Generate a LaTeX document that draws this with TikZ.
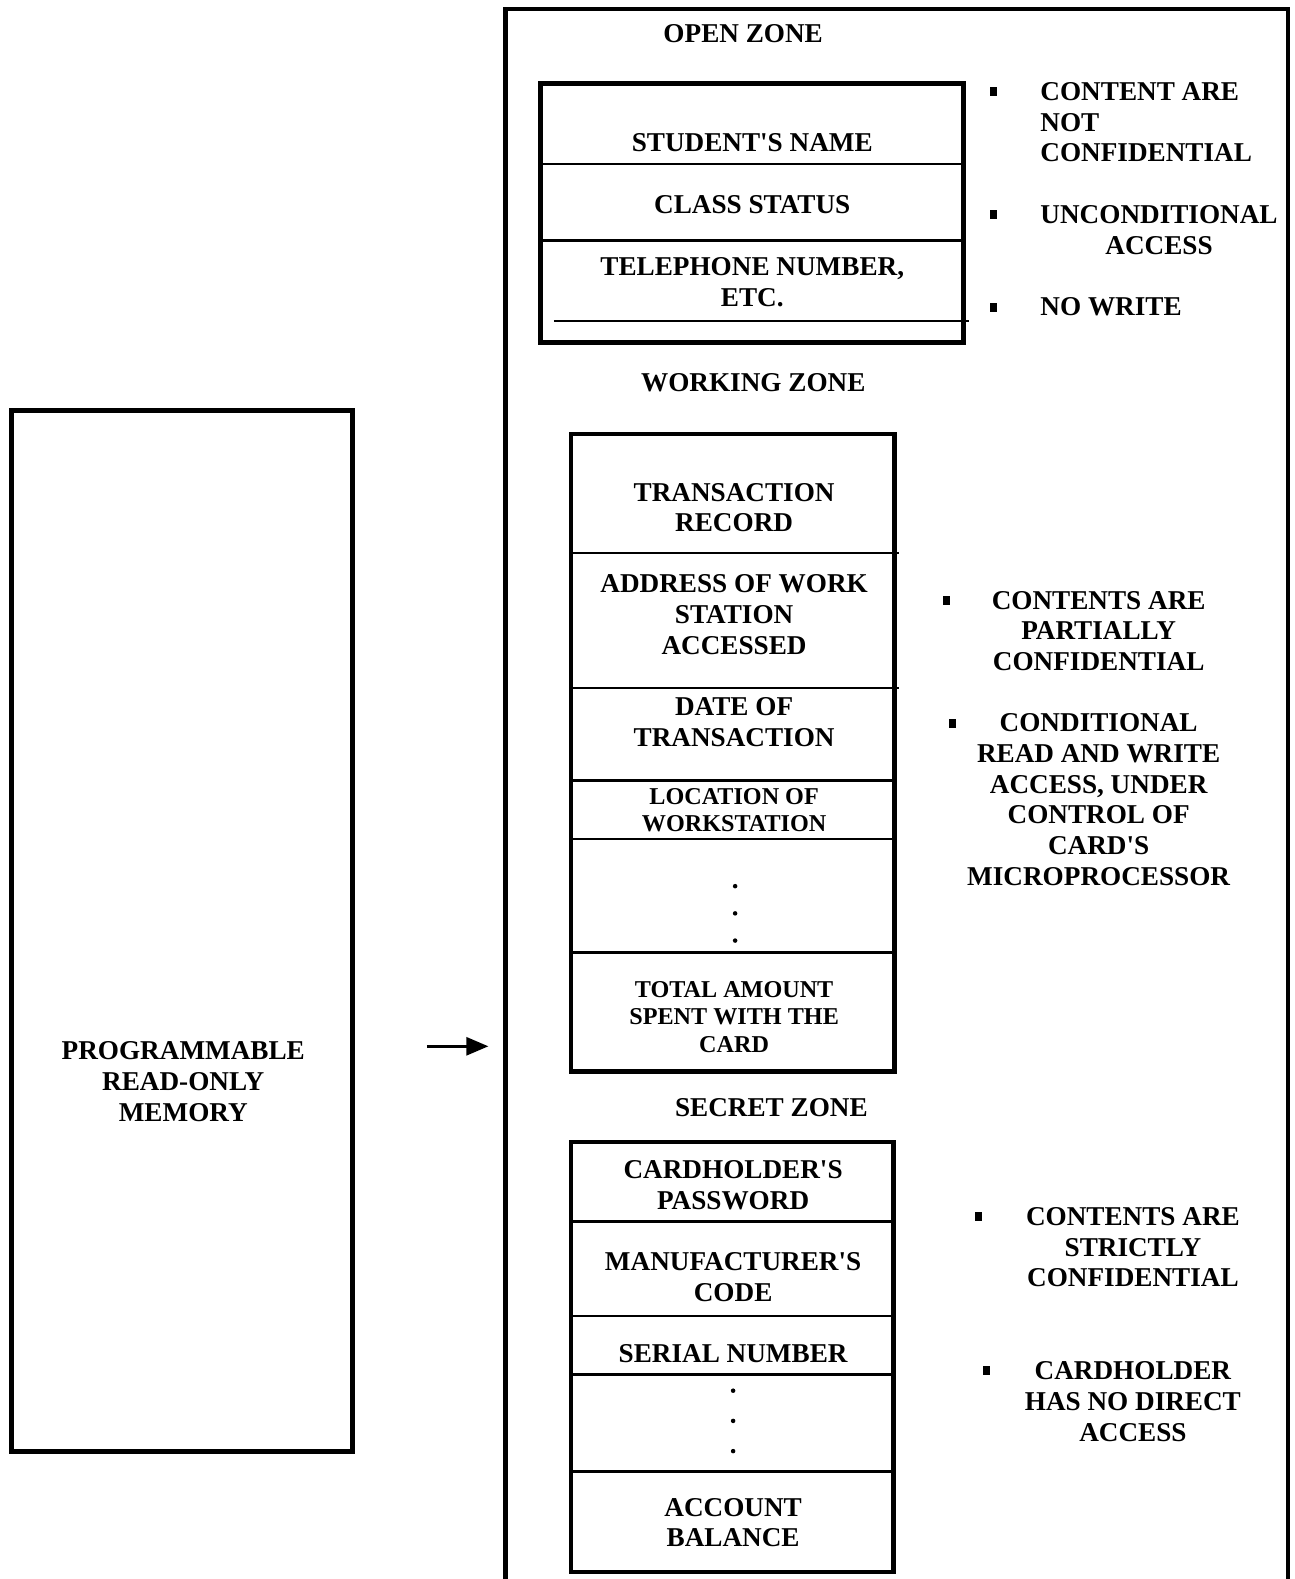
\documentclass[tikz,border=0pt]{standalone}
\usepackage{fontspec}
\setmainfont{Liberation Serif}
\usetikzlibrary{arrows.meta}
\begin{document}
\begin{tikzpicture}[x=1pt,y=-1pt,
  lbl/.style={font=\bfseries\fontsize{27}{30.5}\selectfont, align=center, inner sep=0pt},
  sml/.style={font=\bfseries\fontsize{24}{27}\selectfont, align=center, inner sep=0pt},
  zonebox/.style={draw, line width=4.8pt, inner sep=0pt},
  sepline/.style={line width=2.5pt},
  bul/.style={fill, minimum width=7pt, minimum height=9pt, inner sep=0pt},
  vdot/.style={circle, fill, minimum size=4.5pt, inner sep=0pt}]
\useasboundingbox (0,0) rectangle (1285,1568);

% outer card memory frame (open at the bottom)
\draw[line width=4.5pt] (502,1590) -- (502,9) -- (1279,9) -- (1279,1590);

% PROM box
\node[zonebox, line width=5pt, minimum width=339pt, minimum height=1033pt] (prom) at (180.5,924.5) {};
\node[lbl] (promtxt) at (182,1074) {PROGRAMMABLE\\READ-ONLY\\MEMORY};

% arrow
\coordinate (arrtail) at (424,1039);
\coordinate (arrtip) at (485,1039);
\draw[line width=2.5pt, -{Triangle[length=22pt,width=18pt]}] (arrtail) -- (arrtip);

% ---------------- OPEN ZONE ----------------
\node[lbl] (opentitle) at (738,33) {OPEN ZONE};
\node[zonebox, minimum width=420pt, minimum height=257pt] (openbox) at (747,211.5) {};
\draw[sepline] (537,163) -- (957,163);
\draw[sepline] (537,239) -- (957,239);
\draw[sepline] (550,319) -- (962,319);
\node[lbl] (o1) at (747,142) {STUDENT\textquotesingle S NAME};
\node[lbl] (o2) at (747,203) {CLASS STATUS};
\node[lbl] (o3) at (747,280.5) {TELEPHONE NUMBER,\\ETC.};

\node[bul] (ob1) at (987,91) {};
\node[bul] (ob2) at (987,213) {};
\node[bul] (ob3) at (987,305) {};
\node[lbl, align=left, anchor=west] (ot1) at (1033,121.5) {CONTENT ARE\\NOT\\CONFIDENTIAL};
\node[lbl, anchor=west] (ot2) at (1033,228.5) {UNCONDITIONAL\\ACCESS};
\node[lbl, anchor=west] (ot3) at (1033,305) {NO WRITE};

% ---------------- WORKING ZONE ----------------
\node[lbl] (worktitle) at (748,380) {WORKING ZONE};
\node[zonebox, minimum width=321pt, minimum height=633pt] (workbox) at (727.5,747.5) {};
\draw[sepline] (567,549) -- (893,549);
\draw[sepline] (567,683) -- (893,683);
\draw[sepline] (567,775) -- (888,775);
\draw[sepline] (567,833) -- (888,833);
\draw[sepline] (567,946) -- (888,946);
\node[lbl] (w1) at (729,504) {TRANSACTION\\RECORD};
\node[lbl] (w2) at (729,610.5) {ADDRESS OF WORK\\STATION\\ACCESSED};
\node[lbl] (w3) at (729,717) {DATE OF\\TRANSACTION};
\node[sml] (w4) at (729,804.5) {LOCATION OF\\WORKSTATION};
\node[vdot] (wd1) at (730,880) {};
\node[vdot] (wd2) at (730,907) {};
\node[vdot] (wd3) at (730,934) {};
\node[sml] (w5) at (729,1010) {TOTAL AMOUNT\\SPENT WITH THE\\CARD};

\node[bul] (wb1) at (940,596) {};
\node[bul] (wb2) at (946,718) {};
\node[lbl] (wt1) at (1091,626.5) {CONTENTS ARE\\PARTIALLY\\CONFIDENTIAL};
\node[lbl] (wt2) at (1091,794) {CONDITIONAL\\READ AND WRITE\\ACCESS, UNDER\\CONTROL OF\\CARD\textquotesingle S\\MICROPROCESSOR};

% ---------------- SECRET ZONE ----------------
\node[lbl] (secrettitle) at (766,1100) {SECRET ZONE};
\node[zonebox, minimum width=320pt, minimum height=427pt] (secretbox) at (727,1347.5) {};
\draw[sepline] (567,1213) -- (887,1213);
\draw[sepline] (567,1307) -- (887,1307);
\draw[sepline] (567,1365) -- (887,1365);
\draw[sepline] (567,1461) -- (887,1461);
\node[lbl] (s1) at (728,1177) {CARDHOLDER\textquotesingle S\\PASSWORD};
\node[lbl] (s2) at (728,1268.5) {MANUFACTURER\textquotesingle S\\CODE};
\node[lbl] (s3) at (728,1344) {SERIAL NUMBER};
\node[vdot] (sd1) at (728,1381) {};
\node[vdot] (sd2) at (728,1411) {};
\node[vdot] (sd3) at (728,1441) {};
\node[lbl] (s4) at (728,1512) {ACCOUNT\\BALANCE};

\node[bul] (sb1) at (972,1208) {};
\node[bul] (sb2) at (980,1361) {};
\node[lbl] (st1) at (1125,1238.5) {CONTENTS ARE\\STRICTLY\\CONFIDENTIAL};
\node[lbl] (st2) at (1125,1392) {CARDHOLDER\\HAS NO DIRECT\\ACCESS};
\end{tikzpicture}
\end{document}
